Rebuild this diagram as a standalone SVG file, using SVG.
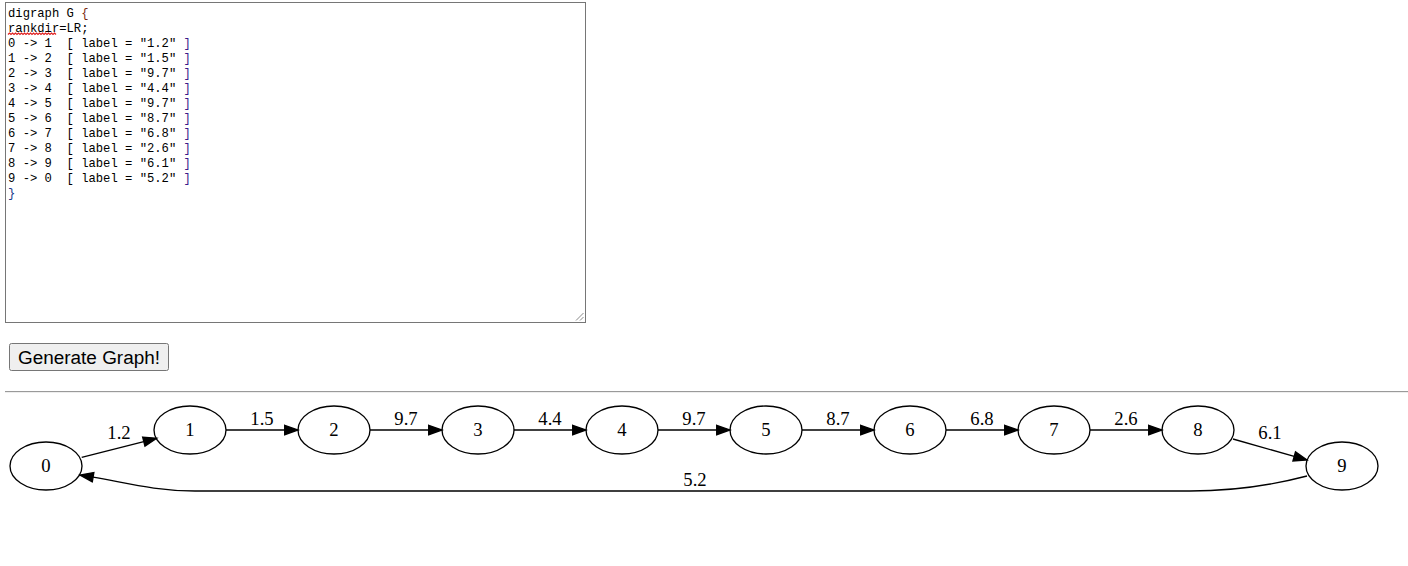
<svg xmlns="http://www.w3.org/2000/svg" width="1408" height="566" viewBox="0 0 1408 566">
<defs>
<style>
.code{font-family:"Liberation Mono","DejaVu Sans Mono",monospace;font-size:12.2px;fill:#000;white-space:pre}
.lbl{font-family:"Liberation Serif","Times New Roman",serif;font-size:18.67px;fill:#000;text-anchor:middle}
.node ellipse{fill:none;stroke:#000;stroke-width:1.33}
.edge path{fill:none;stroke:#000;stroke-width:1.33}
.r{fill:#7a2a10}.b{fill:#1a3a8a}.p{fill:#3b1a8a}
</style>
<marker id="arr" markerWidth="14" markerHeight="10" refX="0" refY="4.7" orient="auto" markerUnits="userSpaceOnUse" overflow="visible">
<polygon points="0,0 13.3,4.7 0,9.4" fill="#000" stroke="#000" stroke-width="1.33"/>
</marker>
</defs>
<rect width="1408" height="566" fill="#fff"/>
<g id="editor">
<rect x="5.5" y="2.5" width="580" height="320" fill="#fff" stroke="#767676" stroke-width="1"/>
<path d="M583.5,313 L576,320.5 M583.5,317 L580,320.5" stroke="#8a8a8a" stroke-width="1" fill="none"/>
<text class="code" xml:space="preserve" x="8" y="17">digraph G <tspan class="r">{</tspan></text>
<text class="code" x="8" y="32">rankdir=LR;</text>
<path d="M8,34.5 l1.5,-1.5 l1.5,1.5 l1.5,-1.5 l1.5,1.5 l1.5,-1.5 l1.5,1.5 l1.5,-1.5 l1.5,1.5 l1.5,-1.5 l1.5,1.5 l1.5,-1.5 l1.5,1.5 l1.5,-1.5 l1.5,1.5 l1.5,-1.5 l1.5,1.5 l1.5,-1.5 l1.5,1.5 l1.5,-1.5 l1.5,1.5 l1.5,-1.5 l1.5,1.5 l1.5,-1.5 l1.5,1.5 l1.5,-1.5 l1.5,1.5 l1.5,-1.5 l1.5,1.5 l1.5,-1.5 l1.5,1.5 l1.5,-1.5 l1.5,1.5" fill="none" stroke="#e02020" stroke-width="1.2"/>
<text class="code" xml:space="preserve" x="8" y="47">0 -&gt; 1  [ label = "1.2" <tspan class="p">]</tspan></text>
<text class="code" xml:space="preserve" x="8" y="62">1 -&gt; 2  [ label = "1.5" <tspan class="p">]</tspan></text>
<text class="code" xml:space="preserve" x="8" y="77">2 -&gt; 3  [ label = "9.7" <tspan class="p">]</tspan></text>
<text class="code" xml:space="preserve" x="8" y="92">3 -&gt; 4  [ label = "4.4" <tspan class="p">]</tspan></text>
<text class="code" xml:space="preserve" x="8" y="107">4 -&gt; 5  [ label = "9.7" <tspan class="p">]</tspan></text>
<text class="code" xml:space="preserve" x="8" y="122">5 -&gt; 6  [ label = "8.7" <tspan class="p">]</tspan></text>
<text class="code" xml:space="preserve" x="8" y="137">6 -&gt; 7  [ label = "6.8" <tspan class="p">]</tspan></text>
<text class="code" xml:space="preserve" x="8" y="152">7 -&gt; 8  [ label = "2.6" <tspan class="p">]</tspan></text>
<text class="code" xml:space="preserve" x="8" y="167">8 -&gt; 9  [ label = "6.1" <tspan class="p">]</tspan></text>
<text class="code" xml:space="preserve" x="8" y="182">9 -&gt; 0  [ label = "5.2" <tspan class="p">]</tspan></text>
<text class="code" x="8" y="197"><tspan class="b">}</tspan></text>
</g>
<g id="button">
<rect x="9.5" y="343.5" width="159" height="27" rx="2" fill="#efefef" stroke="#767676" stroke-width="1"/>
<text x="18" y="364" font-family="Liberation Sans, Arial, sans-serif" font-size="18.8" fill="#000" textLength="142" lengthAdjust="spacingAndGlyphs">Generate Graph!</text>
</g>
<g id="rule">
<line x1="5" y1="391.5" x2="1408" y2="391.5" stroke="#9a9a9a" stroke-width="1"/>
<line x1="5" y1="392.5" x2="1408" y2="392.5" stroke="#eeeeee" stroke-width="1"/>
</g>
<g id="connectors">
<g class="edge" id="e0_1"><path d="M81.7,457.3 L143.8,441.6" marker-end="url(#arr)"/><text class="lbl" x="119" y="439">1.2</text></g>
<g class="edge" id="e1_2"><path d="M226,430 L284.7,430" marker-end="url(#arr)"/><text class="lbl" x="262" y="424.5">1.5</text></g>
<g class="edge" id="e2_3"><path d="M370,430 L428.7,430" marker-end="url(#arr)"/><text class="lbl" x="406" y="424.5">9.7</text></g>
<g class="edge" id="e3_4"><path d="M514,430 L572.7,430" marker-end="url(#arr)"/><text class="lbl" x="550" y="424.5">4.4</text></g>
<g class="edge" id="e4_5"><path d="M658,430 L716.7,430" marker-end="url(#arr)"/><text class="lbl" x="694" y="424.5">9.7</text></g>
<g class="edge" id="e5_6"><path d="M802,430 L860.7,430" marker-end="url(#arr)"/><text class="lbl" x="838" y="424.5">8.7</text></g>
<g class="edge" id="e6_7"><path d="M946,430 L1004.7,430" marker-end="url(#arr)"/><text class="lbl" x="982" y="424.5">6.8</text></g>
<g class="edge" id="e7_8"><path d="M1090,430 L1148.7,430" marker-end="url(#arr)"/><text class="lbl" x="1126" y="424.5">2.6</text></g>
<g class="edge" id="e8_9"><path d="M1233,439 L1294.2,456.4" marker-end="url(#arr)"/><text class="lbl" x="1270" y="439">6.1</text></g>
<g class="edge" id="e9_0"><path d="M1307,476 C1265,487 1230,491 1190,491 L195,491 C155,491 125,482.5 93.1,477.2" marker-end="url(#arr)"/><text class="lbl" x="695" y="486">5.2</text></g>
</g>
<g class="node" id="n0"><ellipse cx="46" cy="466" rx="36" ry="24"/><text class="lbl" x="46" y="471.5">0</text></g>
<g class="node" id="n1"><ellipse cx="190" cy="430" rx="36" ry="24"/><text class="lbl" x="190" y="435.5">1</text></g>
<g class="node" id="n2"><ellipse cx="334" cy="430" rx="36" ry="24"/><text class="lbl" x="334" y="435.5">2</text></g>
<g class="node" id="n3"><ellipse cx="478" cy="430" rx="36" ry="24"/><text class="lbl" x="478" y="435.5">3</text></g>
<g class="node" id="n4"><ellipse cx="622" cy="430" rx="36" ry="24"/><text class="lbl" x="622" y="435.5">4</text></g>
<g class="node" id="n5"><ellipse cx="766" cy="430" rx="36" ry="24"/><text class="lbl" x="766" y="435.5">5</text></g>
<g class="node" id="n6"><ellipse cx="910" cy="430" rx="36" ry="24"/><text class="lbl" x="910" y="435.5">6</text></g>
<g class="node" id="n7"><ellipse cx="1054" cy="430" rx="36" ry="24"/><text class="lbl" x="1054" y="435.5">7</text></g>
<g class="node" id="n8"><ellipse cx="1198" cy="430" rx="36" ry="24"/><text class="lbl" x="1198" y="435.5">8</text></g>
<g class="node" id="n9"><ellipse cx="1342" cy="466" rx="36" ry="24"/><text class="lbl" x="1342" y="471.5">9</text></g>
</svg>
